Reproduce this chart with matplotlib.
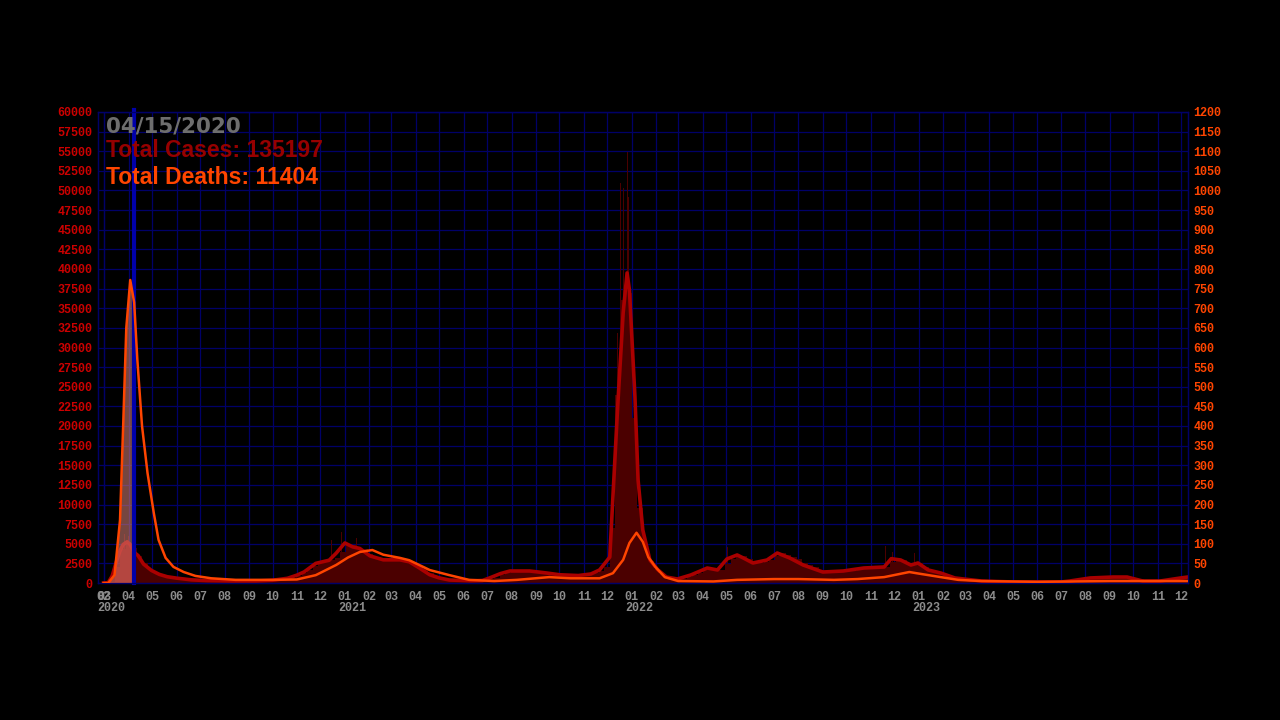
import numpy as np
import pandas as pd
import matplotlib
matplotlib.use('Agg')
import matplotlib.pyplot as plt
import matplotlib.transforms as mtransforms
from matplotlib.font_manager import FontProperties

# current frame
current_label = '04/15/2020'
current_day = '2020-04-08'
total_cases = 135197
total_deaths = 11404

# daily cases, one value per week (weeks start 2020-02-29)
week_start = '2020-02-29'
weekly_cases = [
    0, 150, 2000, 4300, 5200, 4400, 3500, 2500, 1800, 1300,
    1050, 850, 700, 600, 480, 420, 350, 320, 300, 290,
    280, 270, 260, 250, 250, 240, 260, 250, 270, 300,
    340, 420, 480, 540, 620, 900, 1250, 1700, 2200, 2500,
    2700, 2900, 3200, 4000, 5000, 4800, 4500, 4300, 3700, 3300,
    3100, 2950, 3000, 2950, 2950, 2850, 2650, 2200, 1800, 1300,
    950, 700, 550, 420, 330, 280, 260, 250, 270, 320,
    450, 700, 1000, 1300, 1500, 1600, 1550, 1550, 1500, 1400,
    1300, 1250, 1150, 1050, 1000, 950, 900, 950, 1100, 1250,
    1500, 2000, 7000, 24000, 36000, 37000, 21000, 9500, 5000, 2800,
    1800, 1100, 800, 600, 520, 550, 750, 1000, 1300, 1700,
    1900, 1800, 1700, 2400, 3100, 3500, 3500, 3100, 2700, 2500,
    2700, 2950, 3500, 3800, 3600, 3300, 3000, 2600, 2300, 2000,
    1700, 1500, 1400, 1450, 1500, 1550, 1550, 1650, 1800, 1900,
    1950, 2000, 2100, 2700, 3000, 2900, 2400, 2400, 2500, 2000,
    1600, 1400, 1250, 1000, 750, 600, 450, 350, 300, 260,
    230, 200, 180, 170, 160, 150, 150, 140, 140, 130,
    130, 130, 130, 140, 150, 180, 250, 330, 420, 520,
    620, 680, 720, 750, 760, 760, 740, 650, 500, 350,
    280, 250, 250, 280, 350, 480, 650,
]

# single-day spikes above the weekly level
spike_dates = ['2020-03-27', '2020-04-01', '2020-12-15', '2020-12-28', '2021-01-16',
               '2021-12-14', '2021-12-18', '2021-12-21', '2021-12-27', '2021-12-28',
               '2022-05-03', '2022-07-01', '2022-11-20', '2022-11-29', '2022-12-12',
               '2022-12-27']
spike_cases = [6200, 6000, 5500, 6500, 5700,
               31800, 51000, 50300, 54900, 49200,
               4600, 5100, 4700, 3950, 3950,
               3800]

# 7-day average of cases
avg_dates = ['2020-02-29', '2020-03-06', '2020-03-11', '2020-03-16', '2020-03-21',
             '2020-03-25', '2020-03-30', '2020-04-03', '2020-04-08', '2020-04-13',
             '2020-04-20', '2020-04-30', '2020-05-10', '2020-05-20', '2020-06-01',
             '2020-06-20', '2020-07-10', '2020-08-10', '2020-09-10', '2020-10-01',
             '2020-10-20', '2020-11-01', '2020-11-10', '2020-11-25', '2020-12-12',
             '2020-12-21', '2021-01-01', '2021-01-11', '2021-01-20', '2021-02-02',
             '2021-02-19', '2021-03-12', '2021-03-24', '2021-04-06', '2021-04-19',
             '2021-05-01', '2021-05-14', '2021-06-10', '2021-06-25', '2021-07-04',
             '2021-07-18', '2021-07-30', '2021-08-24', '2021-09-15', '2021-10-01',
             '2021-10-25', '2021-11-10', '2021-11-21', '2021-12-04', '2021-12-08',
             '2021-12-14', '2021-12-21', '2021-12-26', '2021-12-29', '2022-01-05',
             '2022-01-09', '2022-01-15', '2022-01-24', '2022-02-03', '2022-02-14',
             '2022-02-28', '2022-03-17', '2022-04-07', '2022-04-20', '2022-05-02',
             '2022-05-15', '2022-05-23', '2022-06-04', '2022-06-22', '2022-07-05',
             '2022-07-21', '2022-08-07', '2022-09-01', '2022-09-27', '2022-10-23',
             '2022-11-18', '2022-11-27', '2022-12-09', '2022-12-22', '2022-12-31',
             '2023-01-13', '2023-01-29', '2023-02-16', '2023-03-22', '2023-05-01',
             '2023-07-01', '2023-07-12', '2023-08-07', '2023-09-05', '2023-09-23',
             '2023-10-13', '2023-11-04', '2023-11-30', '2023-12-09']
avg_cases = [0, 50, 900, 2600, 4100,
             4900, 5250, 4900, 3900, 3500,
             2400, 1600, 1100, 800, 620,
             400, 300, 250, 250, 350,
             600, 1000, 1400, 2500, 2900,
             3800, 5100, 4600, 4400, 3450,
             2950, 2950, 2700, 1900, 1050,
             650, 380, 280, 320, 640,
             1200, 1530, 1530, 1270, 1050,
             950, 1150, 1660, 3300, 11000,
             22400, 34400, 39500, 37300, 23700,
             13100, 6750, 2930, 1700, 760,
             510, 1020, 1910, 1660, 3060,
             3570, 3180, 2550, 2930, 3820,
             3180, 2290, 1400, 1530, 1910,
             2040, 3100, 2930, 2290, 2550,
             1660, 1270, 640, 250, 130,
             130, 250, 640, 760, 760,
             250, 250, 640, 760]

# 7-day average of deaths (right axis)
death_dates = ['2020-02-29', '2020-03-06', '2020-03-14', '2020-03-21', '2020-03-25',
               '2020-03-29', '2020-04-03', '2020-04-08', '2020-04-12', '2020-04-18',
               '2020-04-25', '2020-05-03', '2020-05-09', '2020-05-18', '2020-05-28',
               '2020-06-10', '2020-06-25', '2020-07-15', '2020-08-15', '2020-10-01',
               '2020-11-01', '2020-11-25', '2020-12-21', '2021-01-05', '2021-01-20',
               '2021-02-05', '2021-02-19', '2021-03-12', '2021-03-24', '2021-04-19',
               '2021-05-14', '2021-06-08', '2021-07-10', '2021-08-08', '2021-09-18',
               '2021-10-15', '2021-11-21', '2021-12-08', '2021-12-21', '2021-12-29',
               '2022-01-07', '2022-01-15', '2022-01-22', '2022-01-31', '2022-02-12',
               '2022-03-01', '2022-04-15', '2022-05-15', '2022-07-01', '2022-08-01',
               '2022-09-15', '2022-10-15', '2022-11-18', '2022-12-20', '2023-01-01',
               '2023-01-29', '2023-02-20', '2023-03-22', '2023-06-01', '2023-09-01',
               '2023-12-09']
deaths = [0, 0, 20, 160, 400,
          650, 772, 715, 570, 400,
          280, 178, 110, 64, 41,
          28, 18, 12, 8, 8,
          9, 20, 46, 65, 79,
          84, 72, 64, 58, 33,
          20, 8, 5, 8, 15,
          12, 12, 25, 59, 102,
          128, 105, 66, 41, 15,
          5, 4, 8, 10, 10,
          8, 10, 15, 28, 24,
          15, 8, 5, 3, 5,
          5]

BG = 'black'
GRID = '#000068'
BAR = '#4b0000'
RED = '#aa0000'
ORANGE = '#ff4500'
GRAY = '#8c8c8c'

weeks = pd.date_range(week_start, periods=len(weekly_cases), freq='7D')
avg_d = pd.to_datetime(avg_dates)
death_d = pd.to_datetime(death_dates)
now = pd.Timestamp(current_day)

fig = plt.figure(figsize=(12.8, 7.2), dpi=100, facecolor=BG)
ax = fig.add_axes([98 / 1280, 137 / 720, 1090 / 1280, 471 / 720])
ax.set_facecolor(BG)
ax2 = ax.twinx()

# cases
ax.bar(weeks, weekly_cases, width=7, align='edge', color=BAR, linewidth=0, zorder=2)
ax.bar(pd.to_datetime(spike_dates), spike_cases, width=1, color=BAR, linewidth=0, zorder=2)
ax.plot(avg_d, avg_cases, color=RED, lw=2.6, zorder=3)
m = avg_d <= now
ax.fill_between(avg_d[m], 0, np.array(avg_cases)[m], color='#c80000', alpha=0.5,
                linewidth=0, zorder=4)

# deaths
m2 = death_d <= now
ax2.fill_between(death_d[m2], 0, np.array(deaths)[m2], color='#d88075', alpha=0.55,
                 linewidth=0, zorder=1)
ax2.axvline(now, color='#0000aa', lw=3, zorder=2, ymax=1.005, clip_on=False)
ax2.plot(death_d, deaths, color=ORANGE, lw=1.8, zorder=3)

ax.set_ylim(0, 60000)
ax2.set_ylim(0, 1200)
ax.set_xlim(pd.Timestamp('2020-02-22'), pd.Timestamp('2023-12-09 12:00'))

ax.set_yticks(np.arange(0, 60001, 2500))
ax2.set_yticks(np.arange(0, 1201, 50))

# month ticks (first data day plus month starts)
months = pd.date_range('2020-03-01', '2023-12-01', freq='MS')
ticks = [pd.Timestamp(week_start)] + list(months)
labels = ['02'] + [d.strftime('%m') for d in months]
ax.set_xticks(ticks)
ax.set_xticklabels(labels)

tick_fp = FontProperties(family=['Liberation Mono', 'DejaVu Sans Mono'], weight='bold', size=8.5)
for lab in ax.get_xticklabels():
    lab.set_fontproperties(tick_fp)
    lab.set_color(GRAY)
for lab in ax.get_yticklabels():
    lab.set_fontproperties(tick_fp)
    lab.set_color('#cc0000')
for lab in ax2.get_yticklabels():
    lab.set_fontproperties(tick_fp)
    lab.set_color(ORANGE)

# years on a second row, a little right of the month tick
year_pos = [pd.Timestamp(week_start)] + [d for d in months if d.month == 1]
trans = mtransforms.blended_transform_factory(ax.transData, ax.transAxes)
for d in year_pos:
    ax.text(d + pd.Timedelta(days=10), -0.053, str(d.year), transform=trans,
            ha='center', va='center', color=GRAY, fontproperties=tick_fp)

ax.tick_params(axis='both', length=0)
ax.tick_params(axis='x', pad=6)
ax.tick_params(axis='y', pad=4)
ax2.tick_params(axis='y', length=0, pad=4)

ax.grid(True, color=GRID, lw=0.9, zorder=0)
ax.set_axisbelow(True)
for a in (ax, ax2):
    for s in a.spines.values():
        s.set_color(GRID)
        s.set_linewidth(0.9)

fig.text(106 / 1280, 1 - 133 / 720, current_label, color='#6e6e6e', fontsize=15.4,
         fontweight='bold', family=['DejaVu Sans'], va='baseline')
title_font = ['Liberation Sans', 'DejaVu Sans']
fig.text(106 / 1280, 1 - 157 / 720, 'Total Cases: %d' % total_cases, color='#960000',
         fontsize=16.5, fontweight='bold', family=title_font, va='baseline')
fig.text(106 / 1280, 1 - 184 / 720, 'Total Deaths: %d' % total_deaths, color=ORANGE,
         fontsize=16.5, fontweight='bold', family=title_font, va='baseline')

fig.savefig('out.png', dpi=100, facecolor=BG)
